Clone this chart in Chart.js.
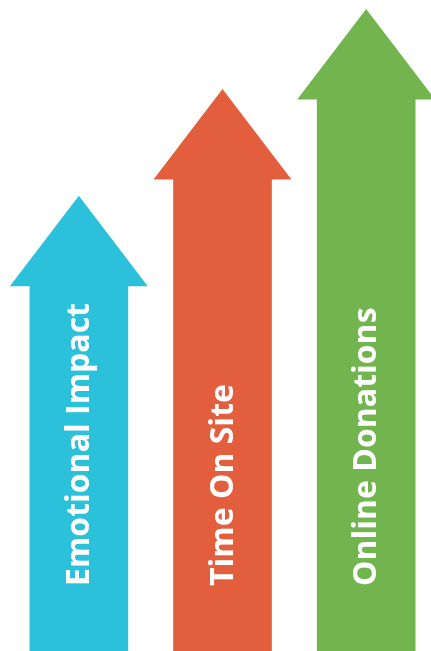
<!doctype html>
<html lang="en">
<head>
	<meta charset="utf-8">
	<title>Arrows</title>
	<script src="https://cdn.jsdelivr.net/npm/chart.js"></script>
	<style>
		html, body { margin: 0; padding: 0; background: #fff; overflow: hidden; width: 431px; height: 651px; }
		.wrap { width: 438px; height: 651px; position: relative; }
	</style>
</head>
<body>
	<div class="wrap"><canvas id="myChart"></canvas></div>
	<script>
		// categories and bar heights (top of the arrow body, 0-100 scale)
		const labels = ['Emotional Impact', 'Time On Site', 'Online Donations'];
		const values = [56.1, 72.5, 84.8];
		const colors = ['#2cc1da', '#e25e3c', '#72b54f'];

		// draws the arrow heads and the rotated labels on top of each bar
		const arrowPlugin = {
			id: 'arrows',
			afterDatasetsDraw(chart) {
				const ctx = chart.ctx;
				const meta = chart.getDatasetMeta(0);
				meta.data.forEach((bar, i) => {
					const half = bar.width / 2 + 20;
					ctx.save();
					ctx.fillStyle = colors[i];
					ctx.beginPath();
					ctx.moveTo(bar.x - half, bar.y + 0.5);
					ctx.lineTo(bar.x + half, bar.y + 0.5);
					ctx.lineTo(bar.x, bar.y - 90);
					ctx.closePath();
					ctx.fill();

					ctx.translate(bar.x + 10, bar.base - 65);
					ctx.rotate(-Math.PI / 2);
					ctx.fillStyle = '#fff';
					ctx.font = 'bold 32px "Open Sans"';
					ctx.textAlign = 'left';
					ctx.textBaseline = 'alphabetic';
					ctx.fillText(labels[i], 0, 0);
					ctx.restore();
				});
			}
		};

		const ctx = document.getElementById('myChart').getContext('2d');
		const myChart = new Chart(ctx, {
			type: 'bar',
			data: {
				labels: labels,
				datasets: [{
					data: values,
					backgroundColor: colors,
					borderWidth: 0,
					barThickness: 98
				}]
			},
			options: {
				responsive: true,
				maintainAspectRatio: false,
				animation: false,
				layout: { padding: { left: 7, right: 0, top: 0, bottom: 0 } },
				plugins: { legend: { display: false }, tooltip: { enabled: false } },
				scales: {
					x: { display: false },
					y: { display: false, min: 0, max: 100 }
				}
			},
			plugins: [arrowPlugin]
		});
	</script>
</body>
</html>
